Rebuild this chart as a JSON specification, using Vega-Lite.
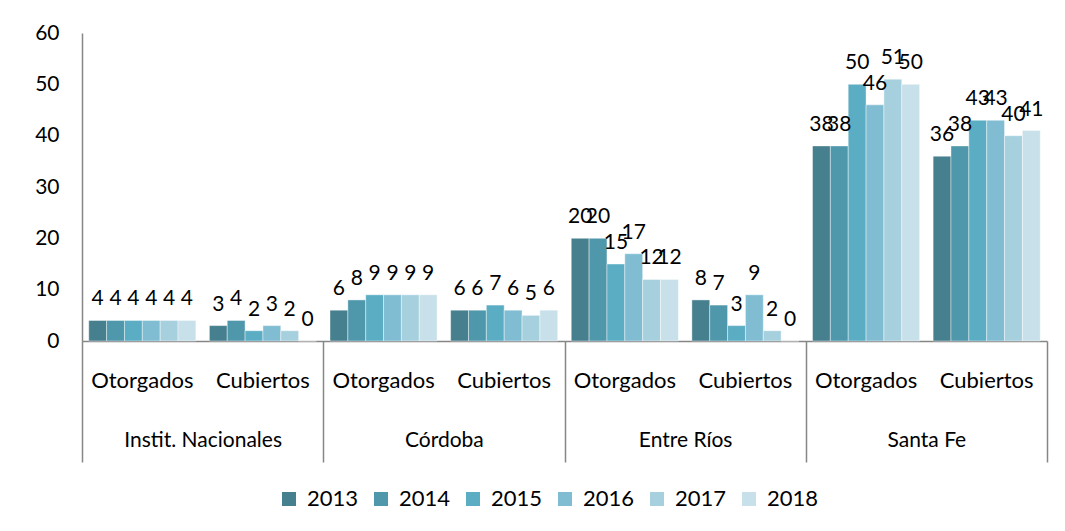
{
  "$schema": "https://vega.github.io/schema/vega-lite/v6.json",
  "width": 965,
  "height": 308,
  "autosize": {"type": "none"},
  "padding": {"left": 82, "top": 33, "right": 18, "bottom": 190},
  "background": "#ffffff",
  "config": {
    "font": "Lato",
    "view": {"stroke": null},
    "axis": {"labelFont": "Lato", "labelColor": "#000000", "labelFontSize": 21, "domainColor": "#868686", "domainWidth": 1.5, "tickColor": "#868686", "tickWidth": 1.5, "grid": false, "title": null}
  },
  "data": {
    "values": [
      {"region": "Instit. Nacionales", "tipo": "Otorgados", "cat": "Instit. Nacionales|Otorgados", "year": "2013", "value": 4},
      {"region": "Instit. Nacionales", "tipo": "Otorgados", "cat": "Instit. Nacionales|Otorgados", "year": "2014", "value": 4},
      {"region": "Instit. Nacionales", "tipo": "Otorgados", "cat": "Instit. Nacionales|Otorgados", "year": "2015", "value": 4},
      {"region": "Instit. Nacionales", "tipo": "Otorgados", "cat": "Instit. Nacionales|Otorgados", "year": "2016", "value": 4},
      {"region": "Instit. Nacionales", "tipo": "Otorgados", "cat": "Instit. Nacionales|Otorgados", "year": "2017", "value": 4},
      {"region": "Instit. Nacionales", "tipo": "Otorgados", "cat": "Instit. Nacionales|Otorgados", "year": "2018", "value": 4},
      {"region": "Instit. Nacionales", "tipo": "Cubiertos", "cat": "Instit. Nacionales|Cubiertos", "year": "2013", "value": 3},
      {"region": "Instit. Nacionales", "tipo": "Cubiertos", "cat": "Instit. Nacionales|Cubiertos", "year": "2014", "value": 4},
      {"region": "Instit. Nacionales", "tipo": "Cubiertos", "cat": "Instit. Nacionales|Cubiertos", "year": "2015", "value": 2},
      {"region": "Instit. Nacionales", "tipo": "Cubiertos", "cat": "Instit. Nacionales|Cubiertos", "year": "2016", "value": 3},
      {"region": "Instit. Nacionales", "tipo": "Cubiertos", "cat": "Instit. Nacionales|Cubiertos", "year": "2017", "value": 2},
      {"region": "Instit. Nacionales", "tipo": "Cubiertos", "cat": "Instit. Nacionales|Cubiertos", "year": "2018", "value": 0},
      {"region": "Córdoba", "tipo": "Otorgados", "cat": "Córdoba|Otorgados", "year": "2013", "value": 6},
      {"region": "Córdoba", "tipo": "Otorgados", "cat": "Córdoba|Otorgados", "year": "2014", "value": 8},
      {"region": "Córdoba", "tipo": "Otorgados", "cat": "Córdoba|Otorgados", "year": "2015", "value": 9},
      {"region": "Córdoba", "tipo": "Otorgados", "cat": "Córdoba|Otorgados", "year": "2016", "value": 9},
      {"region": "Córdoba", "tipo": "Otorgados", "cat": "Córdoba|Otorgados", "year": "2017", "value": 9},
      {"region": "Córdoba", "tipo": "Otorgados", "cat": "Córdoba|Otorgados", "year": "2018", "value": 9},
      {"region": "Córdoba", "tipo": "Cubiertos", "cat": "Córdoba|Cubiertos", "year": "2013", "value": 6},
      {"region": "Córdoba", "tipo": "Cubiertos", "cat": "Córdoba|Cubiertos", "year": "2014", "value": 6},
      {"region": "Córdoba", "tipo": "Cubiertos", "cat": "Córdoba|Cubiertos", "year": "2015", "value": 7},
      {"region": "Córdoba", "tipo": "Cubiertos", "cat": "Córdoba|Cubiertos", "year": "2016", "value": 6},
      {"region": "Córdoba", "tipo": "Cubiertos", "cat": "Córdoba|Cubiertos", "year": "2017", "value": 5},
      {"region": "Córdoba", "tipo": "Cubiertos", "cat": "Córdoba|Cubiertos", "year": "2018", "value": 6},
      {"region": "Entre Ríos", "tipo": "Otorgados", "cat": "Entre Ríos|Otorgados", "year": "2013", "value": 20},
      {"region": "Entre Ríos", "tipo": "Otorgados", "cat": "Entre Ríos|Otorgados", "year": "2014", "value": 20},
      {"region": "Entre Ríos", "tipo": "Otorgados", "cat": "Entre Ríos|Otorgados", "year": "2015", "value": 15},
      {"region": "Entre Ríos", "tipo": "Otorgados", "cat": "Entre Ríos|Otorgados", "year": "2016", "value": 17},
      {"region": "Entre Ríos", "tipo": "Otorgados", "cat": "Entre Ríos|Otorgados", "year": "2017", "value": 12},
      {"region": "Entre Ríos", "tipo": "Otorgados", "cat": "Entre Ríos|Otorgados", "year": "2018", "value": 12},
      {"region": "Entre Ríos", "tipo": "Cubiertos", "cat": "Entre Ríos|Cubiertos", "year": "2013", "value": 8},
      {"region": "Entre Ríos", "tipo": "Cubiertos", "cat": "Entre Ríos|Cubiertos", "year": "2014", "value": 7},
      {"region": "Entre Ríos", "tipo": "Cubiertos", "cat": "Entre Ríos|Cubiertos", "year": "2015", "value": 3},
      {"region": "Entre Ríos", "tipo": "Cubiertos", "cat": "Entre Ríos|Cubiertos", "year": "2016", "value": 9},
      {"region": "Entre Ríos", "tipo": "Cubiertos", "cat": "Entre Ríos|Cubiertos", "year": "2017", "value": 2},
      {"region": "Entre Ríos", "tipo": "Cubiertos", "cat": "Entre Ríos|Cubiertos", "year": "2018", "value": 0},
      {"region": "Santa Fe", "tipo": "Otorgados", "cat": "Santa Fe|Otorgados", "year": "2013", "value": 38},
      {"region": "Santa Fe", "tipo": "Otorgados", "cat": "Santa Fe|Otorgados", "year": "2014", "value": 38},
      {"region": "Santa Fe", "tipo": "Otorgados", "cat": "Santa Fe|Otorgados", "year": "2015", "value": 50},
      {"region": "Santa Fe", "tipo": "Otorgados", "cat": "Santa Fe|Otorgados", "year": "2016", "value": 46},
      {"region": "Santa Fe", "tipo": "Otorgados", "cat": "Santa Fe|Otorgados", "year": "2017", "value": 51},
      {"region": "Santa Fe", "tipo": "Otorgados", "cat": "Santa Fe|Otorgados", "year": "2018", "value": 50},
      {"region": "Santa Fe", "tipo": "Cubiertos", "cat": "Santa Fe|Cubiertos", "year": "2013", "value": 36},
      {"region": "Santa Fe", "tipo": "Cubiertos", "cat": "Santa Fe|Cubiertos", "year": "2014", "value": 38},
      {"region": "Santa Fe", "tipo": "Cubiertos", "cat": "Santa Fe|Cubiertos", "year": "2015", "value": 43},
      {"region": "Santa Fe", "tipo": "Cubiertos", "cat": "Santa Fe|Cubiertos", "year": "2016", "value": 43},
      {"region": "Santa Fe", "tipo": "Cubiertos", "cat": "Santa Fe|Cubiertos", "year": "2017", "value": 40},
      {"region": "Santa Fe", "tipo": "Cubiertos", "cat": "Santa Fe|Cubiertos", "year": "2018", "value": 41}
    ]
  },
  "encoding": {
    "y": {
      "field": "value", "type": "quantitative",
      "scale": {"domain": [0, 60], "nice": false},
      "axis": {"values": [0, 10, 20, 30, 40, 50, 60], "ticks": false, "labelPadding": 23, "domain": true}
    }
  },
  "layer": [
    {
      "encoding": {
        "x": {
          "field": "cat", "type": "nominal",
          "sort": ["Instit. Nacionales|Otorgados", "Instit. Nacionales|Cubiertos", "Córdoba|Otorgados", "Córdoba|Cubiertos", "Entre Ríos|Otorgados", "Entre Ríos|Cubiertos", "Santa Fe|Otorgados", "Santa Fe|Cubiertos"],
          "scale": {"paddingInner": 0.112, "paddingOuter": 0.056},
          "axis": {"orient": "bottom", "ticks": false, "labelAngle": 0, "labelPadding": 29, "labelFontSize": 22, "labelExpr": "split(datum.value, '|')[1]", "domain": true}
        },
        "xOffset": {"field": "year", "type": "nominal", "scale": {"paddingInner": 0, "paddingOuter": 0}}
      },
      "layer": [
        {
          "mark": {"type": "bar", "stroke": "#ffffff", "strokeWidth": 0.6, "strokeOpacity": 0.7},
          "encoding": {
            "color": {
              "field": "year", "type": "nominal",
              "scale": {"domain": ["2013", "2014", "2015", "2016", "2017", "2018"], "range": ["#467f8e", "#4f97ab", "#5badc4", "#80bdd3", "#a7d0de", "#c7e0e9"]},
              "legend": {"orient": "none", "legendX": 196, "legendY": 455, "direction": "horizontal", "title": null, "symbolType": "square", "symbolSize": 196, "symbolStrokeWidth": 0, "labelFontSize": 22, "labelFont": "Lato", "labelColor": "#000000", "columnPadding": 11, "labelOffset": 7}
            }
          }
        },
        {
          "mark": {"type": "text", "baseline": "alphabetic", "dy": -15, "fontSize": 21, "font": "Lato", "color": "#000000"},
          "encoding": {"text": {"field": "value", "type": "quantitative"}}
        }
      ]
    },
    {
      "mark": {"type": "point", "opacity": 0},
      "encoding": {
        "x": {
          "field": "region", "type": "nominal",
          "sort": ["Instit. Nacionales", "Córdoba", "Entre Ríos", "Santa Fe"],
          "scale": {"paddingInner": 0, "paddingOuter": 0},
          "axis": {"orient": "bottom", "ticks": true, "tickBand": "extent", "tickSize": 121, "labelAngle": 0, "labelPadding": -33, "domain": false, "offset": 0}
        }
      }
    }
  ],
  "resolve": {"scale": {"x": "independent"}, "axis": {"x": "independent"}}
}
